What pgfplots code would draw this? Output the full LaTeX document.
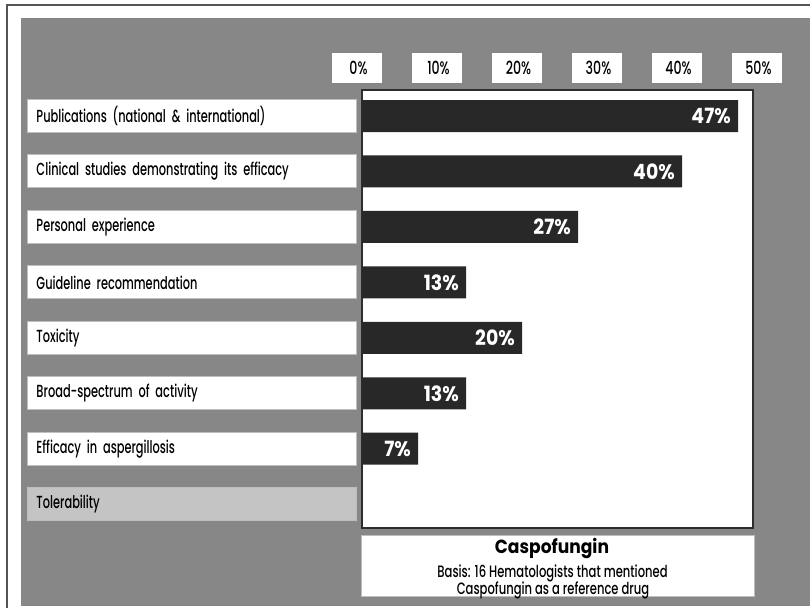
\documentclass[border=0pt]{standalone}
\usepackage{pgfplots}
\pgfplotsset{compat=1.18}
\usepackage{fontspec}
\setmainfont{Poppins Medium}[FakeStretch=0.65]
\newfontfamily\tickfont{Poppins Medium}[FakeStretch=0.70]
\newfontfamily\barfont{Poppins}[FakeStretch=0.9]
\definecolor{panel}{RGB}{135,135,135}
\definecolor{barcol}{RGB}{40,40,40}
\definecolor{framecol}{RGB}{45,45,45}
\definecolor{tolgray}{RGB}{196,196,196}
\definecolor{boxborder}{RGB}{190,190,190}
\definecolor{outer}{RGB}{85,85,85}
\begin{document}
\begin{tikzpicture}[x=1bp,y=1bp]
\path[use as bounding box] (0,0) rectangle (810,608);
\fill[white] (0,0) rectangle (810,608);
\draw[outer, line width=1.2bp] (7,0) -- (7,603) -- (810,603);
\fill[panel] (21,2) rectangle (810,590);
\begin{axis}[
  at={(362bp,80bp)}, anchor=south west,
  width=391bp, height=438bp, scale only axis,
  xmin=0, xmax=48.875,
  ymin=-0.47, ymax=7.43, y dir=reverse,
  axis background/.style={fill=white},
  axis line style={draw=framecol, line width=1.5bp},
  xtick=\empty,
  ytick={0,1,2,3,4,5,6},
  yticklabels={Publications (national \& international),
               Clinical studies demonstrating its efficacy,
               Personal experience,
               Guideline recommendation,
               Toxicity,
               Broad-spectrum of activity,
               Efficacy in aspergillosis},
  extra y ticks={7},
  extra y tick labels={Tolerability},
  extra y tick style={yticklabel style={fill=tolgray}},
  major tick length=0pt,
  tick style={draw=none},
  yticklabel style={anchor=east, xshift=-5bp, fill=white, draw=boxborder,
     line width=1bp, text width=311bp, align=left, inner xsep=9bp,
     minimum height=33bp, font=\fontsize{17.5bp}{19bp}\selectfont},
  clip=false,
  xbar, bar width=32bp,
  point meta=x,
  /pgf/number format/assume math mode=true,
  nodes near coords={\pgfmathprintnumber{\pgfplotspointmeta}\%},
  every node near coord/.append style={anchor=east, inner sep=0pt, xshift=-7bp,
     text=white, font=\barfont\bfseries\fontsize{21bp}{21bp}\selectfont},
]
\addplot[fill=barcol, draw=none] coordinates {
  (47,0) (40,1) (27,2) (13,3) (20,4) (13,5) (7,6)};
\pgfplotsinvokeforeach{0,10,20,30,40,50}{
  \node[fill=white, minimum width=50bp, minimum height=30bp, inner sep=0pt,
        font=\tickfont\fontsize{18bp}{18bp}\selectfont]
        at ([xshift=-5.5bp,yshift=22bp]axis cs:#1,-0.47) {\hspace*{4bp}#1\%};
}
\end{axis}
\node[fill=white, draw=boxborder, line width=1bp, minimum width=393bp, minimum height=61bp, inner sep=0pt] at (557.5,41.5) {};
\node[font=\barfont\bfseries\fontsize{19bp}{19bp}\selectfont] at (552,59) {Caspofungin};
\node[font=\tickfont\fontsize{16.5bp}{16.5bp}\selectfont] at (552.5,35) {Basis: 16 Hematologists that mentioned};
\node[font=\tickfont\fontsize{16.5bp}{16.5bp}\selectfont] at (553,18) {Caspofungin as a reference drug};
\end{tikzpicture}
\end{document}
